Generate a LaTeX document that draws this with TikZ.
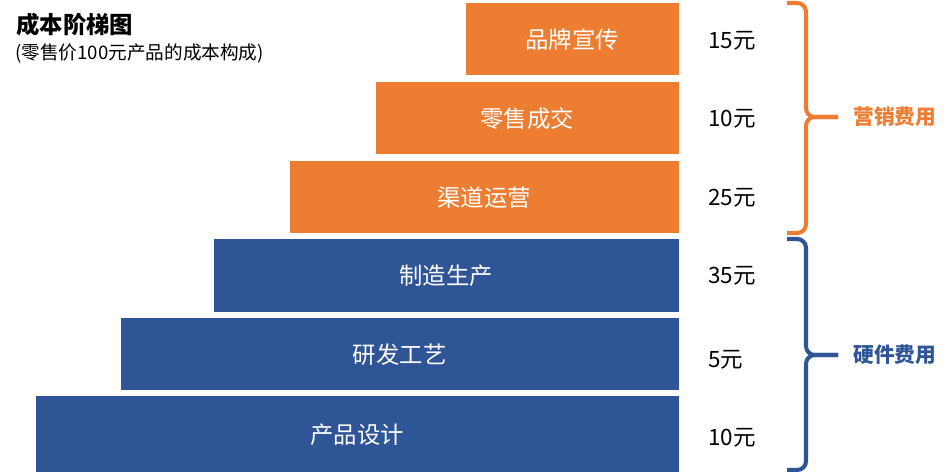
\documentclass[tikz,border=0pt]{standalone}
\usepackage{fontspec}
\newfontfamily\cjk{Noto Sans CJK SC}
\usetikzlibrary{positioning}
\definecolor{mkorange}{HTML}{ED7D31}
\definecolor{hwblue}{HTML}{2F5597}

\begin{document}
\begin{tikzpicture}[x=0.02cm, y=-0.02cm, node distance=0.58cm, font=\cjk,
    bar/.style={rectangle, inner sep=0pt, minimum height=1.44cm, anchor=north east,
      text=white, font=\cjk\fontsize{13.3}{15}\selectfont},
    val/.style={inner sep=0pt, font=\cjk\fontsize{12.8}{14}\selectfont},
    grp/.style={inner sep=0pt, font=\cjk\bfseries\fontsize{11.8}{14}\selectfont},
    brace/.style={line width=2.3pt, rounded corners=5pt}]
  \useasboundingbox (0,0) rectangle (949,472);

  % title
  \node[anchor=west, inner sep=0pt, font=\cjk\bfseries\fontsize{13.3}{16}\selectfont] (title) at (16,25) {成本阶梯图};
  \node[anchor=west, inner sep=0pt, font=\cjk\fontsize{10.6}{13}\selectfont] (subtitle) at (15,53) {(零售价100元产品的成本构成)};

  % steps
  \node[bar, fill=mkorange, minimum width=4.26cm] (brand) at (679,3) {品牌宣传};
  \node[bar, fill=mkorange, minimum width=6.06cm] (retail) at (679,82) {零售成交};
  \node[bar, fill=mkorange, minimum width=7.78cm] (channel) at (679,161) {渠道运营};
  \node[bar, fill=hwblue, minimum width=9.30cm, minimum height=1.46cm] (make) at (679,239) {制造生产};
  \node[bar, fill=hwblue, minimum width=11.16cm] (rnd) at (679,318) {研发工艺};
  \node[bar, fill=hwblue, minimum width=12.86cm, minimum height=1.52cm] (design) at (679,396) {产品设计};

  % costs
  \node[val, right=of brand, yshift=-0.03cm] (vbrand) {15元};
  \node[val, right=of retail] (vretail) {10元};
  \node[val, right=of channel] (vchannel) {25元};
  \node[val, right=of make] (vmake) {35元};
  \node[val, right=of rnd, yshift=-0.1cm] (vrnd) {5元};
  \node[val, right=of design, yshift=-0.06cm] (vdesign) {10元};

  % braces
  \coordinate (mktip) at (838,117);
  \coordinate (hwtip) at (838,355);
  \draw[brace, mkorange] (787,3) -| (806,117) -- (mktip);
  \draw[brace, mkorange] (mktip) -- (806,117) |- (787,233);
  \draw[brace, hwblue] (787,239) -| (806,355) -- (hwtip);
  \draw[brace, hwblue] (hwtip) -- (806,355) |- (787,470);
  \node[grp, text=mkorange, right=0.3cm of mktip] (marketing) {营销费用};
  \node[grp, text=hwblue, right=0.3cm of hwtip] (hardware) {硬件费用};
\end{tikzpicture}
\end{document}
